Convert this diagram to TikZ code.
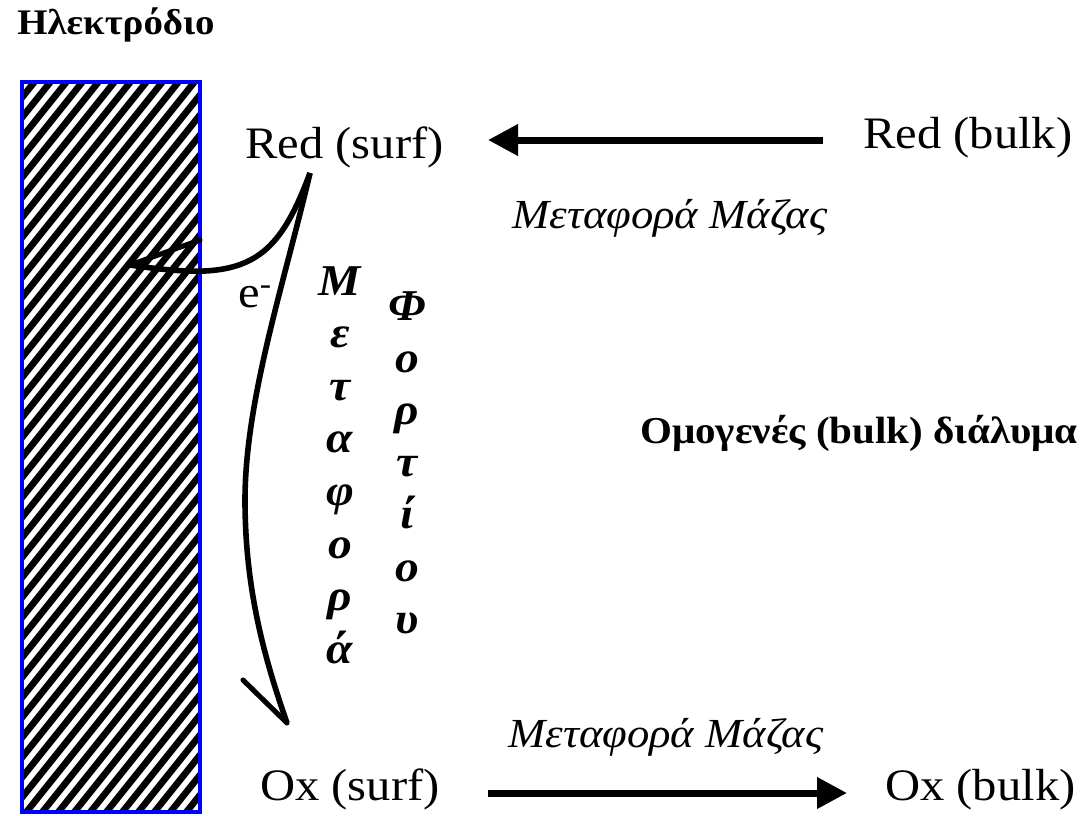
\documentclass[tikz,border=0pt]{standalone}
\usepackage{fontspec}
\setmainfont{Liberation Serif}[FakeStretch=1.08]
\usetikzlibrary{arrows.meta}
\tikzset{
 lbl/.style={inner sep=0pt, anchor=base west, font=\fontsize{33.75}{40}\selectfont},
 ital/.style={inner sep=0pt, anchor=base west, font=\fontsize{31}{37}\selectfont\itshape},
 vlet/.style={inner sep=0pt, anchor=base, font=\fontsize{33}{40}\selectfont\bfseries\itshape},
 boldlbl/.style={inner sep=0pt, anchor=base west, font=\fontsize{27}{32}\selectfont\bfseries},
 bulklbl/.style={inner sep=0pt, anchor=base west, font=\fontsize{28.5}{34}\selectfont\bfseries},
 bigarrow/.style={line width=5.25pt, -{Triangle[length=22.5pt,width=22.5pt]}},
 curve/.style={line width=4.2pt},
 barb/.style={line width=3.8pt, line cap=round},
 hatchline/.style={line width=5pt},
 electrode/.style={draw=blue, line width=2.5pt},
}
\begin{document}
\begin{tikzpicture}[x=0.75pt,y=-0.75pt]
\useasboundingbox (0,0) rectangle (1084,815);
\fill[white] (0,0) rectangle (1084,815);
% electrode
\begin{scope}
\clip (21,82) rectangle (200,812);
\foreach \k in {0,...,52} {\draw[hatchline] ({-580+16*\k},830) -- ++(600,-750);}
\end{scope}
\draw[electrode] (22,82) rectangle (200,812);
% texts
\node[boldlbl] (title) at (17,34) {Ηλεκτρόδιο};
\node[lbl] (rsurf) at (245,158) {Red (surf)};
\node[lbl] (rbulk) at (863,148) {Red (bulk)};
\node[lbl] (oxsurf) at (260,800) {Ox (surf)};
\node[lbl] (oxbulk) at (885,800) {Ox (bulk)};
\node[ital] (mm1) at (512,228) {Μεταφορά Μάζας};
\node[ital] (mm2) at (508,747) {Μεταφορά Μάζας};
\node[bulklbl] (bulk) at (640,443) {Ομογενές (bulk) διάλυμα};
\node[lbl] (el) at (238,307) {e\textsuperscript{-}};
\foreach \c [count=\i from 0] in {Μ,ε,τ,α,φ,ο,ρ,ά}
  \node[vlet] (m\i) at (340,{295+52.6*\i}) {\c};
\foreach \c [count=\i from 0] in {Φ,ο,ρ,τ,ί,ο,υ}
  \node[vlet] (f\i) at (407,{320+52.2*\i}) {\c};
% straight arrows
\coordinate (a1s) at (823,140);
\coordinate (a1e) at (488,140);
\coordinate (a2s) at (488,793);
\coordinate (a2e) at (847,793);
\draw[bigarrow] (a1s) -- (a1e);
\draw[bigarrow] (a2s) -- (a2e);
% curved arrows
\coordinate (rs) at (310,173);
\coordinate (etip) at (130,265);
\coordinate (ebarb) at (200,240);
\coordinate (btip) at (287,723);
\coordinate (bbarb) at (243,680);
\draw[curve] (rs) .. controls (285,240) and (262,268) .. (205,271) .. controls (180,272) and (150,268) .. (etip);
\draw[barb] (etip) -- (ebarb);
\draw[curve] (rs) .. controls (285,280) and (245,400) .. (245,500) .. controls (245,590) and (265,660) .. (btip);
\draw[barb] (btip) -- (bbarb);
\end{tikzpicture}
\end{document}
